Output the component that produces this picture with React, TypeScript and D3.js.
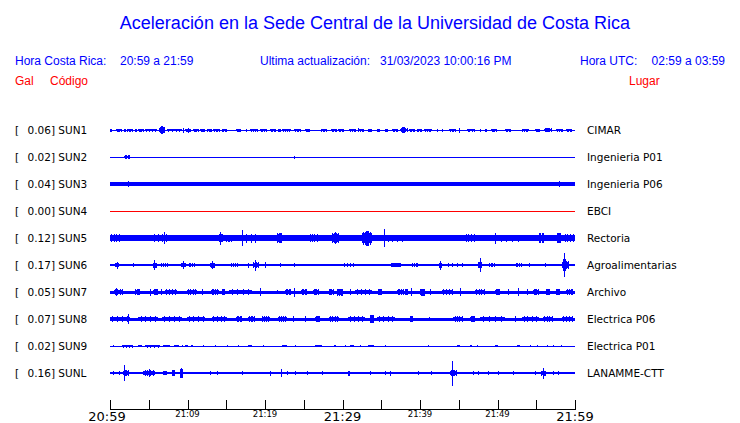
import React from "react";
import * as d3 from "d3";

// ---- data ----
const codes = ["SUN1", "SUN2", "SUN3", "SUN4", "SUN5", "SUN6", "SUN7", "SUN8", "SUN9", "SUNL"];
const places = ["CIMAR", "Ingenieria P01", "Ingenieria P06", "EBCI", "Rectoria", "Agroalimentarias", "Archivo", "Electrica P06", "Electrica P01", "LANAMME-CTT"];
const peakGal = ["0.06", "0.02", "0.04", "0.00", "0.12", "0.17", "0.05", "0.07", "0.02", "0.16"];
const baseAmp = [0.5, 0.5, 1.7, 0.5, 2.8, 1.2, 1.5, 1.5, 0.5, 1.3];
const traceColor = ["#0000ff", "#0000ff", "#0000ff", "#ff0000", "#0000ff", "#0000ff", "#0000ff", "#0000ff", "#0000ff", "#0000ff"];

// events: [startMinute, endMinute, amplitude]
const sun1 = [[0,0.3,1.5],[0.8,1.5,1.5],[1.85,2.0,1.5],[2.15,2.9,1.5],[3.2,3.45,1.5],[3.65,4.3,1.5],[4.5,6.0,1.5],[6.35,7.1,3.0],[6.55,6.85,3.8],[7.3,9.25,1.5],[9.4,9.4,2.5],[9.7,10.5,1.5],[10.1,10.1,2.5],[10.75,11.4,1.5],[11.6,12.25,1.5],[12.5,13.1,1.5],[13.3,14.2,1.5],[14.4,15.05,1.5],[16.3,16.85,1.5],[17.6,17.6,1.5],[18.05,19.1,1.5],[19.35,20.2,1.5],[20.7,21.4,1.5],[21.7,22.0,1.5],[22.25,23.3,1.5],[23.75,24.7,1.5],[25.15,25.8,1.5],[27.2,27.95,1.5],[28.5,29.3,1.5],[29.45,30.2,1.5],[30.9,31.8,1.5],[31.95,32.8,1.5],[32.0,32.0,2.2],[33.3,33.75,1.5],[34.4,34.85,1.5],[35.5,35.9,1.5],[36.35,37.2,1.5],[37.4,38.5,1.8],[37.7,38.1,2.6],[38.6,39.35,1.5],[39.55,40.2,1.5],[40.5,41.5,1.5],[42.15,42.35,1.5],[42.8,43.0,1.5],[43.8,44.65,1.5],[45.0,45.0,2.5],[46.0,47.1,1.5],[47.7,47.7,1.5],[48.4,48.6,1.5],[49.15,49.9,1.5],[50.95,51.75,1.5],[53.1,54.0,1.5],[54.85,55.5,1.5],[56.05,57.0,1.8],[56.3,56.7,2.3],[57.6,58.5,1.5],[58.9,59.6,1.5]];
const sun2 = [[1.8,2.6,1.8],[2.0,2.2,2.2],[23.8,23.8,1.5]];
const sun3 = [[2.1,2.5,2.4],[2.3,2.3,3.3],[22.1,22.1,2.3],[31.05,31.05,2.4],[33.25,33.3,2.4],[33.7,33.75,2.4],[46.6,46.6,2.4],[57.9,57.9,2.6]];
const sun4 = [];
const sun5 = [[0,1.3,4.2],[1.5,2.0,3.3],[2.5,3.0,3.3],[3.4,4.0,3.3],[4.5,5.0,3.3],[5.4,7.5,4.0],[7.0,7.0,6.0],[7.9,8.5,3.3],[9.0,9.5,3.3],[10.0,10.7,3.3],[11.2,11.8,3.3],[12.3,13.5,3.3],[14.0,14.6,4.0],[14.2,14.2,6.5],[14.9,15.7,3.5],[16.8,19.1,4.5],[17.0,17.0,8.0],[19.6,21.3,3.3],[21.5,22.2,5.0],[22.8,25.2,3.3],[25.6,26.9,3.6],[27.3,28.2,3.3],[28.6,29.5,5.0],[29.0,29.0,6.2],[29.9,32.0,3.4],[32.5,33.8,6.5],[33.0,33.4,7.5],[35.3,35.3,9.0],[35.5,38.1,3.5],[39.0,42.3,3.2],[42.8,45.4,3.2],[45.8,47.1,4.2],[48.0,49.2,3.2],[49.7,49.7,5.5],[50.1,53.1,3.5],[53.5,54.8,3.2],[55.3,56.0,4.6],[56.5,57.2,3.3],[57.6,58.2,4.6],[58.5,60,3.6]];
const sun6 = [[0.6,1.1,2.0],[0.85,0.85,3.5],[3.0,3.0,2.0],[5.5,6.0,2.5],[5.7,5.7,5.0],[6.45,7.5,2.0],[9.2,9.8,2.2],[9.45,9.45,4.0],[10.1,10.9,2.0],[12.9,13.5,2.5],[13.1,13.1,4.0],[15.5,16.6,2.0],[17.85,17.85,2.5],[18.4,19.2,3.0],[18.7,18.7,5.5],[20.0,20.0,3.0],[21.9,21.9,1.8],[23.7,23.7,2.0],[30.0,31.6,1.8],[36.2,37.6,2.2],[38.9,39.8,2.0],[42.4,42.9,2.5],[42.6,42.6,4.5],[43.3,45.8,1.7],[47.5,48.0,3.0],[47.75,47.75,7.0],[48.8,49.7,1.8],[52.3,53.1,2.0],[54.0,54.0,1.7],[56.1,56.1,1.6],[58.3,59.2,4.0],[58.5,58.9,6.0],[58.6,58.6,12.0]];
const sun7 = [[0.55,1.7,3.0],[0.8,0.8,4.0],[3.2,3.9,3.0],[5.1,5.1,3.5],[5.6,6.2,3.0],[6.6,6.6,3.2],[7.1,8.6,2.6],[9.9,11.2,2.6],[11.85,11.85,3.2],[13.0,14.0,2.6],[14.4,14.8,2.6],[15.35,18.3,2.6],[19.35,19.35,3.6],[21.6,21.6,2.2],[22.6,23.4,2.6],[23.8,23.8,4.5],[24.7,25.4,2.6],[26.2,26.9,3.0],[28.2,28.8,2.6],[29.25,30.1,3.5],[31.0,31.0,2.6],[31.6,33.8,2.6],[34.6,35.1,2.6],[37.0,37.9,3.0],[38.1,38.5,2.6],[38.9,38.9,3.6],[40.0,40.6,3.5],[41.3,41.3,2.6],[42.8,44.3,2.6],[45.1,45.1,3.6],[47.1,48.4,3.0],[49.7,50.3,2.6],[51.4,51.4,2.6],[52.7,52.7,3.6],[53.8,53.8,2.6],[54.6,55.3,2.6],[56.3,56.8,2.6],[57.6,58.0,2.6],[58.9,59.8,2.6]];
const sun8 = [[0,2.6,3.0],[2.3,2.3,5.0],[3.65,6.2,2.6],[6.7,9.25,2.6],[9.9,12.3,2.6],[13.1,15.05,2.6],[16.3,17.0,2.6],[17.85,18.7,2.6],[19.55,20.6,2.6],[21.7,22.8,2.6],[23.65,23.65,2.6],[25.1,25.1,3.0],[26.45,27.1,2.6],[28.2,29.5,2.6],[30.75,32.9,2.6],[33.6,34.0,4.0],[34.4,36.8,2.6],[38.7,39.15,2.6],[41.1,41.1,2.2],[44.3,45.6,2.6],[46.45,47.1,2.6],[47.75,51.0,2.6],[52.3,52.3,3.0],[53.1,55.3,2.6],[55.9,57.2,2.6],[58.3,59.8,2.6]];
const sun9 = [[0.45,0.45,1.2],[1.5,3.0,1.5],[3.65,4.1,1.2],[4.5,6.45,1.5],[6.9,7.75,1.3],[8.2,8.8,1.3],[9.25,9.25,1.3],[9.7,10.1,1.3],[10.5,10.75,1.2],[12.05,12.05,1.3],[13.55,13.55,1.3],[15.05,15.05,1.2],[16.55,16.55,1.2],[17.85,18.3,1.3],[19.8,19.8,1.3],[22.15,22.8,1.3],[23.85,23.85,1.3],[26.5,27.3,1.3],[28.85,29.1,1.3],[30.3,30.3,1.2],[31.0,31.45,1.4],[32.25,32.25,1.3],[33.35,34.0,1.4],[35.5,35.5,1.2],[41.05,41.05,1.2],[44.75,45.1,1.3],[46.45,46.7,1.4],[47.3,47.3,1.2],[49.7,50.1,1.4],[52.5,52.9,1.3],[54.2,54.2,1.3],[55.15,55.15,1.2],[56.35,56.35,1.3],[57.2,57.2,1.2],[58.2,58.2,1.3]];
const sunL = [[0.45,0.45,2.0],[1.1,1.1,2.0],[1.7,2.4,3.0],[1.75,1.75,8.3],[4.3,5.8,2.6],[5.0,5.0,3.6],[6.9,7.3,2.2],[8.0,8.4,3.0],[9.0,9.4,4.5],[9.2,9.2,5.0],[12.9,12.9,1.8],[13.75,13.75,1.8],[17.0,17.0,1.8],[20.65,20.65,2.5],[22.0,22.0,3.6],[22.8,22.8,2.0],[23.85,23.85,1.8],[25.4,25.4,1.8],[27.3,27.3,2.2],[30.75,30.95,2.5],[33.55,33.55,2.0],[35.5,35.5,2.0],[36.1,36.1,2.5],[39.8,39.8,2.0],[41.4,41.4,2.0],[43.9,44.8,3.0],[44.1,44.1,12.5],[46.85,46.85,2.0],[47.5,47.5,2.0],[48.8,48.8,1.8],[50.1,50.1,1.8],[52.05,52.05,2.0],[54.85,54.85,2.0],[55.6,56.2,2.5],[55.85,55.85,5.5],[57.2,57.2,1.8],[57.85,57.85,1.8]];
const traceEvents = [sun1, sun2, sun3, sun4, sun5, sun6, sun7, sun8, sun9, sunL];

const tickMinutes = [0, 5, 10, 15, 20, 25, 30, 35, 40, 45, 50, 55, 60];
const tickLabels = ["20:59", "", "21:09", "", "21:19", "", "21:29", "", "21:39", "", "21:49", "", "21:59"];
const majorTicks = ["20:59", "21:29", "21:59"];

const title = "Aceleración en la Sede Central de la Universidad de Costa Rica";

export default function App() {
  const W = 740, H = 423;
  const x = d3.scaleLinear().domain([0, 60]).range([110, 575]);
  const row = d3.scalePoint<string>().domain(codes).range([130, 373]);
  const amp = d3.scaleLinear().domain([0, 13.5]).range([0, 13.5]);
  const blue = "#0000ff";
  const red = "#ff0000";
  const hdr = { fontFamily: "'Liberation Sans', Arial, sans-serif", fontSize: 12 };
  const lbl = { fontFamily: "'DejaVu Sans', sans-serif", fontSize: 10.5 };

  // burst drawn as a lower block with thin full-amplitude strokes across it
  const combFractions = [0.12, 0.35, 0.6, 0.85];
  const burst = (x0: number, x1: number, a: number, b: number, cy: number) => {
    const w = x1 - x0;
    if (w < 4) return `M${x0},${cy - a}h${Math.max(1, w)}V${cy + a}H${x0}Z`;
    const low = Math.max(b, a * 0.72);
    let d = `M${x0},${cy - low}H${x1}V${cy + low}H${x0}Z`;
    combFractions.forEach((f) => {
      const xs = Math.round(x0 + w * f);
      d += `M${xs},${cy - a}h1V${cy + a}h-1Z`;
    });
    return d;
  };

  return (
    <svg width={W} height={H} style={{ position: "fixed", left: 0, top: 0, background: "#fff" }}>
      <rect width={W} height={H} fill="#fff" />
      <text x={375} y={29} textAnchor="middle" fill={blue} style={{ fontFamily: "'Liberation Sans', Arial, sans-serif", fontSize: 18 }}>{title}</text>

      <text x={15} y={65} fill={blue} style={hdr}>Hora Costa Rica:</text>
      <text x={120} y={65} fill={blue} style={hdr}>20:59 a 21:59</text>
      <text x={260} y={65} fill={blue} style={hdr}>Ultima actualización:</text>
      <text x={380} y={65} fill={blue} style={hdr}>31/03/2023 10:00:16 PM</text>
      <text x={580} y={65} fill={blue} style={hdr}>Hora UTC:</text>
      <text x={725} y={65} textAnchor="end" fill={blue} style={hdr}>02:59 a 03:59</text>

      <text x={15} y={85} fill={red} style={hdr}>Gal</text>
      <text x={50} y={85} fill={red} style={hdr}>Código</text>
      <text x={629} y={85} fill={red} style={hdr}>Lugar</text>

      {codes.map((c, i) => {
        const cy = row(c)!;
        const col = traceColor[i];
        const b = amp(baseAmp[i]);
        return (
          <g key={c}>
            <text x={15} y={cy + 4} fill="#000" style={lbl}>[</text>
            <text x={27.5} y={cy + 4} fill="#000" style={lbl}>{peakGal[i]}] {c}</text>
            <text x={587} y={cy + 4} fill="#000" style={lbl}>{places[i]}</text>
            <g shapeRendering="crispEdges" fill={col}>
              <rect x={x(0)} y={cy - b} width={x(60) - x(0)} height={Math.max(1, 2 * b)} />
              {traceEvents[i].map((e, j) => (
                <path key={j} d={burst(x(e[0]), x(e[1]), amp(e[2]), b, cy)} />
              ))}
            </g>
          </g>
        );
      })}

      <g shapeRendering="crispEdges" stroke="#000">
        <line x1={x(0)} x2={x(60)} y1={409.5} y2={409.5} />
        {tickMinutes.map((m) => (
          <line key={m} x1={Math.round(x(m)) + 0.5} x2={Math.round(x(m)) + 0.5} y1={400} y2={409.5} />
        ))}
      </g>
      {tickMinutes.map((m, i) => {
        const t = tickLabels[i];
        if (!t) return null;
        const big = majorTicks.includes(t);
        return (
          <text key={m} x={i === 0 ? x(m) - 3 : x(m)} y={big ? 421 : 417} textAnchor="middle" fill="#000"
            style={{ fontFamily: "'DejaVu Sans', sans-serif", fontSize: big ? 13 : 8.5 }}>{t}</text>
        );
      })}
    </svg>
  );
}
